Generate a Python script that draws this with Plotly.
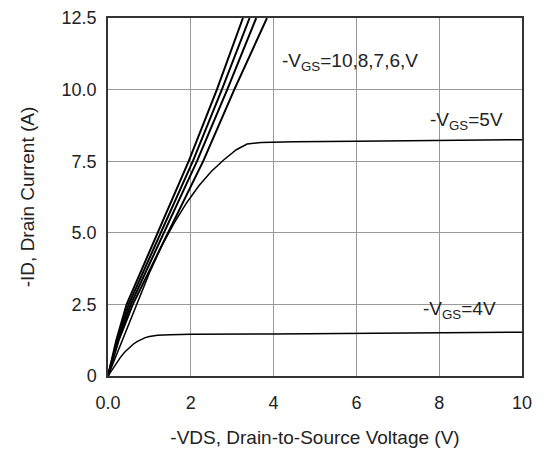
import plotly.graph_objects as go

# Output characteristics (-VDS in V, -ID in A)
i_lin = [0, 1.25, 2.5, 5.0, 7.5, 10.0, 12.5]
v_vgs10 = [0, 0.20, 0.45, 1.20, 1.95, 2.63, 3.26]
v_vgs8 = [0, 0.22, 0.50, 1.28, 2.05, 2.75, 3.42]
v_vgs7 = [0, 0.24, 0.55, 1.36, 2.15, 2.88, 3.58]
v_vgs6 = [0, 0.26, 0.60, 1.45, 2.30, 3.05, 3.84]

v_vgs5 = [0, 0.3, 0.6, 1.0, 1.3, 1.6, 1.9, 2.2, 2.5, 2.8, 3.1, 3.36, 3.7, 4.5, 6.0, 8.0, 10.0]
i_vgs5 = [0, 1.1, 2.2, 3.6, 4.55, 5.35, 6.05, 6.65, 7.15, 7.55, 7.9, 8.1, 8.15, 8.18, 8.2, 8.22, 8.25]

v_vgs4 = [0, 0.1, 0.2, 0.3, 0.4, 0.5, 0.6, 0.7, 0.8, 0.9, 1.0, 1.2, 1.5, 2.0, 4.0, 6.0, 8.0, 10.0]
i_vgs4 = [0, 0.22, 0.45, 0.65, 0.83, 0.98, 1.1, 1.2, 1.28, 1.34, 1.38, 1.42, 1.44, 1.46, 1.47, 1.49, 1.51, 1.53]

x_ticks = [0, 2, 4, 6, 8, 10]
x_ticktext = ["0.0", "2", "4", "6", "8", "10"]
y_ticks = [0, 2.5, 5.0, 7.5, 10.0, 12.5]
y_ticktext = ["0", "2.5", "5.0", "7.5", "10.0", "12.5"]

fig = go.Figure()
for v in [v_vgs10, v_vgs8, v_vgs7, v_vgs6]:
    fig.add_trace(go.Scatter(x=v, y=i_lin, mode="lines",
                             line=dict(color="black", width=2),
                             showlegend=False, hoverinfo="skip"))
fig.add_trace(go.Scatter(x=v_vgs5, y=i_vgs5, mode="lines",
                         line=dict(color="black", width=1.5),
                         showlegend=False))
fig.add_trace(go.Scatter(x=v_vgs4, y=i_vgs4, mode="lines",
                         line=dict(color="black", width=1.5),
                         showlegend=False))

font = dict(family="Liberation Sans, Arial, sans-serif", size=19, color="#222")
fig.add_annotation(x=5.85, y=10.97, text="-V<sub>GS</sub>=10,8,7,6,V",
                   showarrow=False, font=font)
fig.add_annotation(x=8.67, y=8.9, text="-V<sub>GS</sub>=5V",
                   showarrow=False, font=font)
fig.add_annotation(x=8.48, y=2.3, text="-V<sub>GS</sub>=4V",
                   showarrow=False, font=font)

fig.update_layout(
    width=539, height=455,
    margin=dict(l=100, r=25, t=10, b=87),
    paper_bgcolor="white", plot_bgcolor="white",
    font=dict(family="Liberation Sans, Arial, sans-serif", size=18, color="#222"),
    xaxis=dict(range=[0, 10], tickvals=x_ticks, ticktext=x_ticktext,
               showgrid=True, gridcolor="#999", gridwidth=1,
               showline=True, linecolor="#333", linewidth=1.5, mirror=True,
               zeroline=False, ticks="", ticklabelstandoff=10, automargin=False,
               ticklabeloverflow="allow",
               title=dict(text="-VDS, Drain-to-Source Voltage (V)",
                          font=dict(size=19), standoff=18)),
    yaxis=dict(range=[0, 12.5], tickvals=y_ticks, ticktext=y_ticktext,
               showgrid=True, gridcolor="#999", gridwidth=1,
               showline=True, linecolor="#333", linewidth=1.5, mirror=True,
               zeroline=False, ticks="", ticklabelstandoff=6, automargin=False,
               ticklabeloverflow="allow",
               title=dict(text="-ID, Drain Current (A)",
                          font=dict(size=19), standoff=22)),
)

fig.write_html("out.html")
